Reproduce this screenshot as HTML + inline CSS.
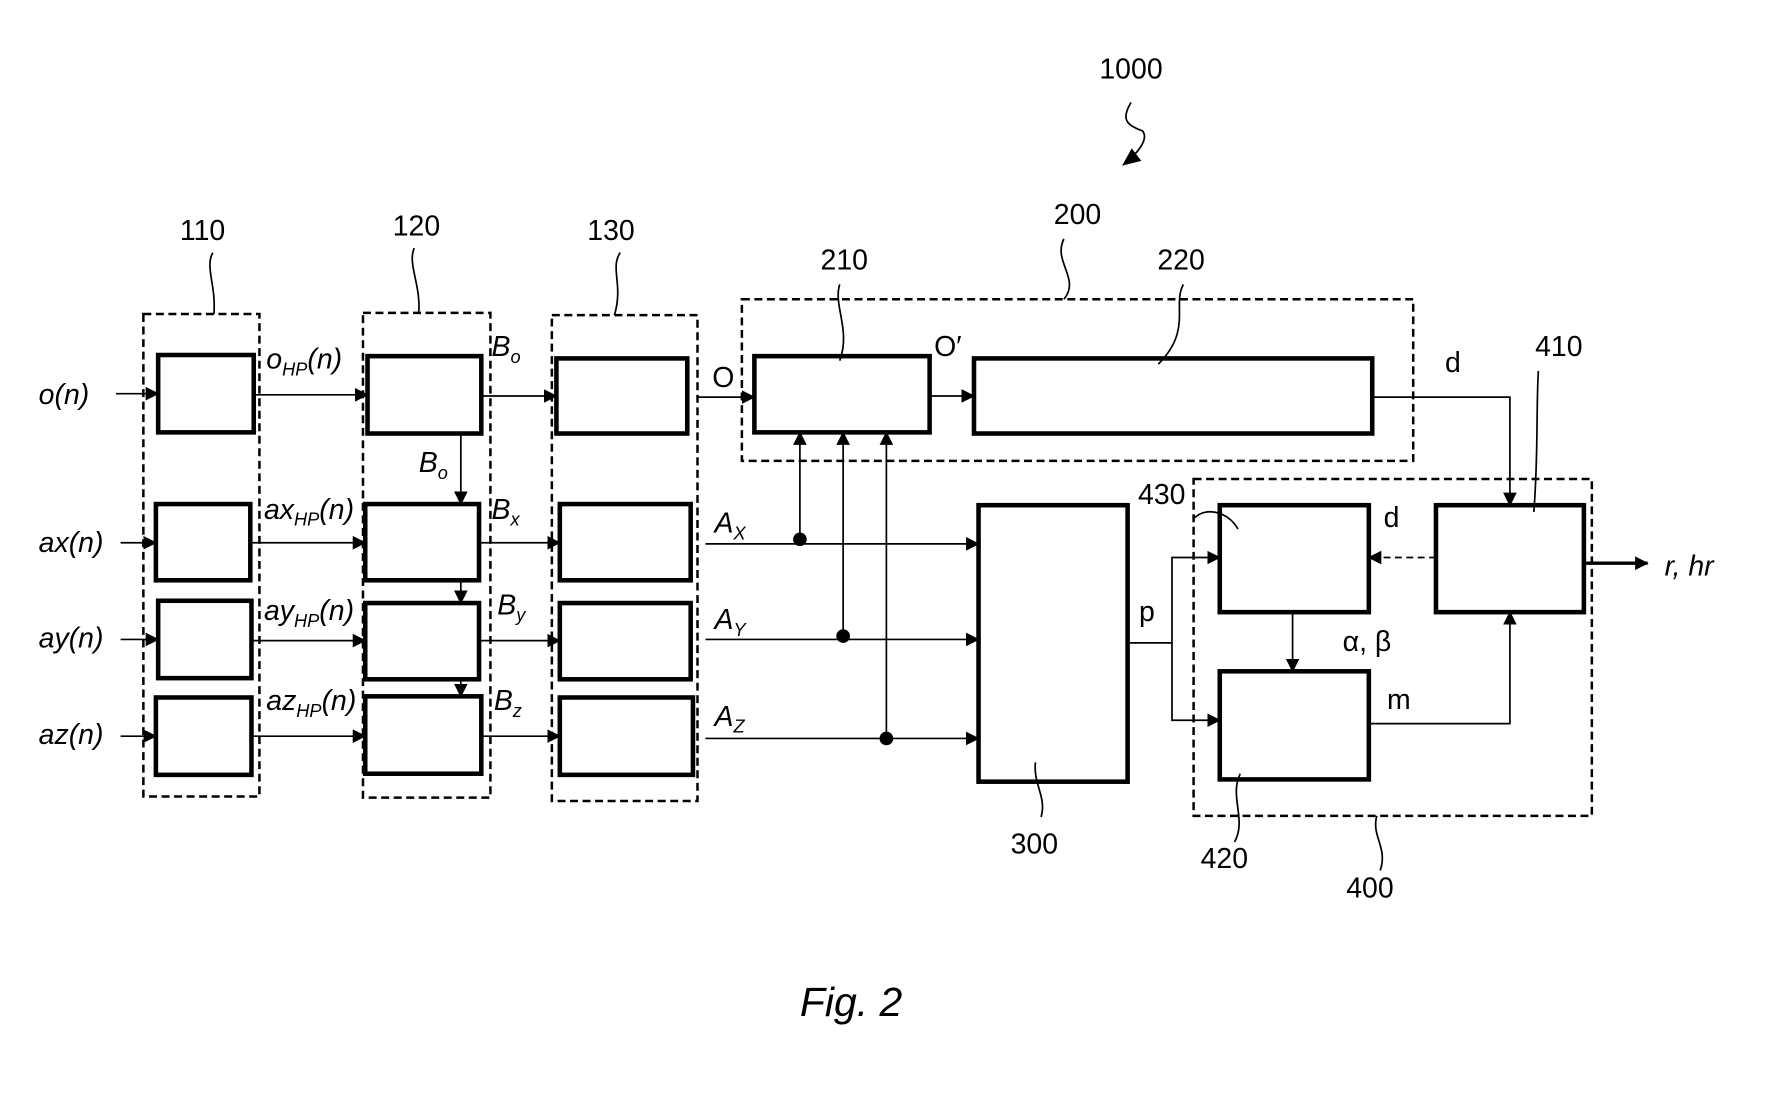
<!DOCTYPE html>
<html><head><meta charset="utf-8"><style>
html,body{margin:0;padding:0;background:#fff;}
svg{display:block;}
text{font-family:"Liberation Sans","DejaVu Sans",sans-serif;fill:#000;}
.n{font-size:25px;}
.i{font-style:italic;font-size:25px;}
.s{font-style:italic;font-size:16px;}
</style></head><body>
<svg width="1783" height="1098" viewBox="0 0 1567 965" preserveAspectRatio="none" xmlns="http://www.w3.org/2000/svg">
<defs>
<marker id="a" markerWidth="12" markerHeight="12" refX="11" refY="6" orient="auto" markerUnits="userSpaceOnUse"><path d="M0,0 L12,6 L0,12 z" fill="#000"/></marker>
<marker id="b" markerWidth="16" markerHeight="14" refX="15" refY="7" orient="auto" markerUnits="userSpaceOnUse"><path d="M0,0 L16,7 L0,14 z" fill="#000"/></marker>
</defs>
<g fill="none" stroke="#000" stroke-width="2.2" stroke-dasharray="7,4">
<rect x="126" y="276" width="102" height="424"/>
<rect x="319" y="275" width="112" height="426"/>
<rect x="485" y="277" width="128" height="427"/>
<rect x="652" y="263" width="590" height="142"/>
<rect x="1049" y="421" width="350" height="296"/>
</g>
<g fill="none" stroke="#000" stroke-width="4">
<rect x="139" y="312" width="84" height="68"/>
<rect x="137" y="443" width="83" height="67"/>
<rect x="139" y="528" width="82" height="68"/>
<rect x="137" y="613" width="84" height="68"/>
<rect x="323" y="313" width="100" height="68"/>
<rect x="321" y="443" width="100" height="67"/>
<rect x="321" y="530" width="100" height="67"/>
<rect x="321" y="612" width="102" height="68"/>
<rect x="489" y="315" width="115" height="66"/>
<rect x="492" y="443" width="115" height="67"/>
<rect x="492" y="530" width="115" height="67"/>
<rect x="492" y="613" width="117" height="68"/>
<rect x="663" y="313" width="154" height="67"/>
<rect x="856" y="315" width="350" height="66"/>
<rect x="860" y="444" width="131" height="243"/>
<rect x="1072" y="444" width="131" height="94"/>
<rect x="1072" y="590" width="131" height="95"/>
<rect x="1262" y="444" width="130" height="94"/>
</g>
<g fill="none" stroke="#000" stroke-width="1.5" marker-end="url(#a)">
<path d="M102,346 H139"/><path d="M223,347 H323"/><path d="M423,348 H489"/><path d="M613,349 H663"/><path d="M817,348 H856"/>
<path d="M1206,349 H1327 V444"/>
<path d="M106,477 H137"/><path d="M220,477 H321"/><path d="M421,477 H492"/><path d="M620,478 H860"/>
<path d="M106,562 H139"/><path d="M221,563 H321"/><path d="M421,563 H492"/><path d="M620,562 H860"/>
<path d="M106,647 H137"/><path d="M221,647 H321"/><path d="M423,647 H492"/><path d="M620,649 H860"/>
<path d="M703,474 V380"/><path d="M741,559 V380"/><path d="M779,649 V380"/>
<path d="M405,381 V443"/><path d="M405,510 V530"/><path d="M405,597 V612"/>
<path d="M991,565 H1030 V490 H1072"/><path d="M1030,565 V633 H1072"/>
<path d="M1136,538 V590"/><path d="M1203,636 H1327 V538"/>
<path d="M1262,490 H1203" stroke-dasharray="6,4"/>
<path d="M1392,495 H1448" stroke-width="3"/>
</g>
<g fill="#000"><circle cx="703" cy="474" r="6"/><circle cx="741" cy="559" r="6"/><circle cx="779" cy="649" r="6"/></g>
<g fill="none" stroke="#000" stroke-width="1.5">
<path d="M187,222 C180,235 190,250 188,276"/>
<path d="M364,218 C358,232 370,250 368,275"/>
<path d="M545,222 C536,236 548,250 540,277"/>
<path d="M738,250 C732,268 748,290 738,317"/>
<path d="M1040,250 C1030,268 1048,290 1018,320"/>
<path d="M935,210 C925,230 950,245 935,263"/>
<path d="M1352,326 C1350,360 1352,400 1348,450"/>
<path d="M1050,455 C1060,445 1080,450 1088,465"/>
<path d="M910,670 C908,690 920,700 915,718"/>
<path d="M1090,680 C1080,700 1096,720 1085,740"/>
<path d="M1210,717 C1205,735 1220,745 1213,765"/>
<path d="M994,90 C985,105 990,110 1004,115 C1010,122 1000,135 987,145" marker-end="url(#b)"/>
</g>
<text class="n" x="178" y="211" text-anchor="middle">110</text>
<text class="n" x="366" y="207" text-anchor="middle">120</text>
<text class="n" x="537" y="211" text-anchor="middle">130</text>
<text class="n" x="742" y="237" text-anchor="middle">210</text>
<text class="n" x="947" y="197" text-anchor="middle">200</text>
<text class="n" x="1038" y="237" text-anchor="middle">220</text>
<text class="n" x="994" y="69" text-anchor="middle">1000</text>
<text class="n" x="1370" y="313" text-anchor="middle">410</text>
<text class="n" x="1021" y="443" text-anchor="middle">430</text>
<text class="n" x="909" y="750" text-anchor="middle">300</text>
<text class="n" x="1076" y="763" text-anchor="middle">420</text>
<text class="n" x="1204" y="789" text-anchor="middle">400</text>
<text class="i" x="34" y="355">o(n)</text>
<text class="i" x="34" y="485">ax(n)</text>
<text class="i" x="34" y="569">ay(n)</text>
<text class="i" x="34" y="654">az(n)</text>
<text class="i" x="234" y="324">o<tspan class="s" dy="6">HP</tspan><tspan dy="-6">(n)</tspan></text>
<text class="i" x="232" y="456">ax<tspan class="s" dy="6">HP</tspan><tspan dy="-6">(n)</tspan></text>
<text class="i" x="232" y="545">ay<tspan class="s" dy="6">HP</tspan><tspan dy="-6">(n)</tspan></text>
<text class="i" x="234" y="624">az<tspan class="s" dy="6">HP</tspan><tspan dy="-6">(n)</tspan></text>
<text class="i" x="432" y="313">B<tspan class="s" dy="6">o</tspan></text>
<text class="i" x="368" y="415">B<tspan class="s" dy="6">o</tspan></text>
<text class="i" x="432" y="456">B<tspan class="s" dy="6">x</tspan></text>
<text class="i" x="437" y="540">B<tspan class="s" dy="6">y</tspan></text>
<text class="i" x="434" y="624">B<tspan class="s" dy="6">z</tspan></text>
<text class="n" x="626" y="340">O</text>
<text class="n" x="821" y="313">O′</text>
<text class="i" x="628" y="468">A<tspan class="s" dy="6">X</tspan></text>
<text class="i" x="628" y="553">A<tspan class="s" dy="6">Y</tspan></text>
<text class="i" x="628" y="638">A<tspan class="s" dy="6">Z</tspan></text>
<text class="n" x="1270" y="327">d</text>
<text class="n" x="1216" y="463">d</text>
<text class="n" x="1001" y="546">p</text>
<text class="n" x="1180" y="572">α, β</text>
<text class="n" x="1219" y="623">m</text>
<text class="i" x="1463" y="506">r, hr</text>
<text x="748" y="893" text-anchor="middle" style="font-style:italic;font-size:36px">Fig. 2</text>
</svg>
</body></html>
